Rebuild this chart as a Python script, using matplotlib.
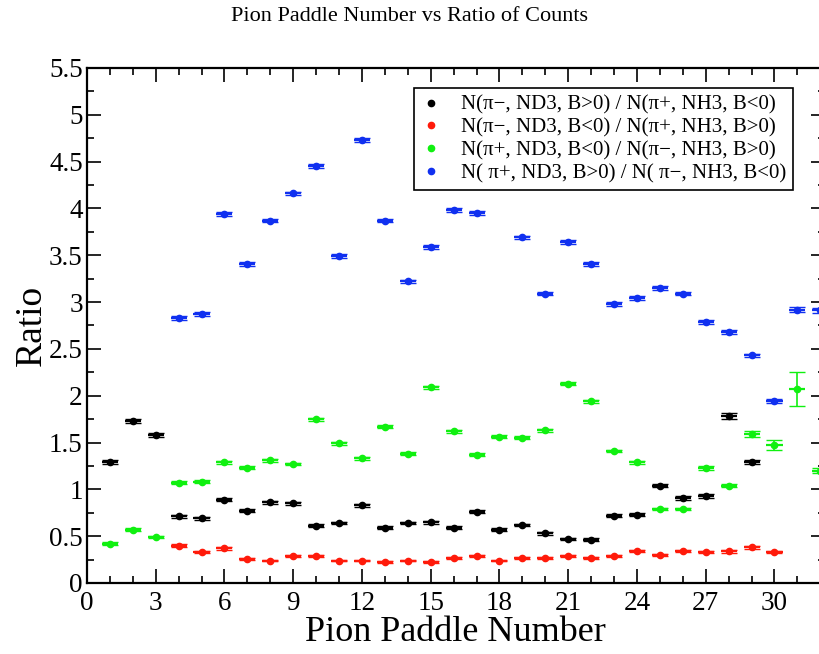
import matplotlib.pyplot as plt
from matplotlib.lines import Line2D

plt.rcParams['font.family'] = ['Liberation Serif', 'DejaVu Serif']

# paddle numbers and ratios
black_x = list(range(1, 30))
black_y = [1.29, 1.73, 1.58, 0.71, 0.69, 0.89, 0.77, 0.86, 0.85, 0.61,
           0.64, 0.83, 0.59, 0.64, 0.65, 0.59, 0.76, 0.57, 0.62, 0.53,
           0.47, 0.46, 0.72, 0.73, 1.04, 0.91, 0.93, 1.78, 1.29]
black_e = [0.02, 0.02, 0.02, 0.015, 0.015, 0.015, 0.015, 0.015, 0.015, 0.015,
           0.015, 0.015, 0.015, 0.015, 0.015, 0.015, 0.015, 0.015, 0.015, 0.015,
           0.015, 0.015, 0.015, 0.015, 0.02, 0.02, 0.02, 0.03, 0.02]

red_x = list(range(4, 31))
red_y = [0.40, 0.33, 0.37, 0.26, 0.24, 0.29, 0.29, 0.24, 0.24, 0.22,
         0.24, 0.22, 0.27, 0.29, 0.24, 0.27, 0.27, 0.29, 0.27, 0.29,
         0.34, 0.30, 0.34, 0.33, 0.34, 0.38, 0.33]
red_e = [0.015, 0.015, 0.015, 0.01, 0.01, 0.01, 0.01, 0.01, 0.01, 0.01,
         0.01, 0.01, 0.01, 0.01, 0.01, 0.01, 0.01, 0.01, 0.01, 0.01,
         0.01, 0.01, 0.01, 0.01, 0.015, 0.015, 0.015]

green_x = list(range(1, 33))
green_y = [0.42, 0.57, 0.49, 1.07, 1.08, 1.29, 1.23, 1.31, 1.27, 1.75,
           1.49, 1.33, 1.67, 1.38, 2.09, 1.62, 1.37, 1.56, 1.55, 1.63,
           2.13, 1.94, 1.41, 1.29, 0.79, 0.79, 1.23, 1.04, 1.59, 1.47,
           2.07, 1.20]
green_e = [0.015, 0.015, 0.015, 0.015, 0.015, 0.015, 0.015, 0.015, 0.015, 0.015,
           0.015, 0.015, 0.015, 0.015, 0.015, 0.015, 0.015, 0.015, 0.015, 0.015,
           0.015, 0.015, 0.015, 0.015, 0.015, 0.015, 0.02, 0.02, 0.03, 0.055,
           0.18, 0.03]

blue_x = [4, 5, 6, 7, 8, 9, 10, 11, 12, 13, 14, 15, 16, 17, 19, 20,
          21, 22, 23, 24, 25, 26, 27, 28, 29, 30, 31, 32]
blue_y = [2.83, 2.87, 3.94, 3.41, 3.87, 4.16, 4.45, 3.49, 4.73, 3.87,
          3.22, 3.59, 3.98, 3.95, 3.69, 3.09, 3.64, 3.41, 2.98, 3.04,
          3.15, 3.09, 2.79, 2.68, 2.43, 1.94, 2.92, 2.91]
blue_e = [0.02, 0.02, 0.02, 0.02, 0.02, 0.02, 0.02, 0.02, 0.02, 0.02,
          0.02, 0.02, 0.02, 0.02, 0.02, 0.02, 0.02, 0.02, 0.02, 0.02,
          0.02, 0.02, 0.02, 0.02, 0.02, 0.02, 0.03, 0.03]

labels = ['N(\u03c0\u2212, ND3, B>0) / N(\u03c0+, NH3, B<0)',
          'N(\u03c0\u2212, ND3, B<0) / N(\u03c0+, NH3, B>0)',
          'N(\u03c0+, ND3, B<0) / N(\u03c0\u2212, NH3, B>0)',
          'N( \u03c0+, ND3, B>0) / N( \u03c0\u2212, NH3, B<0)']
colors = ['black', '#ff1a0a', '#10f010', '#1030f0']

fig = plt.figure(figsize=(8.2, 6.54), dpi=100)
ax = fig.add_axes([0.106, 0.1086, 0.9, 0.7875])

series = [(black_x, black_y, black_e), (red_x, red_y, red_e),
          (green_x, green_y, green_e), (blue_x, blue_y, blue_e)]
for (xs, ys, es), c in zip(series, colors):
    # horizontal bars (paddle width), then vertical stat errors with caps
    ax.errorbar(xs, ys, xerr=0.35, fmt='none', ecolor=c, elinewidth=1.6,
                capsize=0)
    ax.errorbar(xs, ys, yerr=es, fmt='o', color=c, ms=4.5, ecolor=c,
                elinewidth=1.2, capsize=5.5, capthick=1.0)

ax.set_xlim(0, 32.2)
ax.set_ylim(0, 5.5)
ax.set_xticks(range(0, 33, 3))
ax.set_xticks(range(0, 33), minor=True)
ax.set_yticks([i * 0.5 for i in range(12)])
ax.set_yticklabels(['0', '0.5', '1', '1.5', '2', '2.5', '3', '3.5',
                    '4', '4.5', '5', '5.5'])
ax.set_yticks([i * 0.25 for i in range(23)], minor=True)
ax.tick_params(which='both', direction='in', top=True, right=True,
               labelsize=19.5, width=1.2)
ax.tick_params(axis='x', pad=6)
ax.tick_params(axis='y', pad=3)
ax.tick_params(which='major', length=10)
ax.tick_params(which='minor', length=5)
for s in ax.spines.values():
    s.set_linewidth(1.6)

ax.set_xlabel('Pion Paddle Number', fontsize=26, labelpad=0)
ax.set_ylabel('Ratio', fontsize=27, labelpad=0)
fig.suptitle('Pion Paddle Number vs Ratio of Counts', fontsize=16, y=0.99)

handles = [Line2D([], [], ls='none', marker='o', ms=4.5, color=c) for c in colors]
leg = ax.legend(handles, labels, loc='upper right', bbox_to_anchor=(0.957, 0.961),
                fontsize=15, frameon=True, fancybox=False, framealpha=1,
                edgecolor='black', handlelength=1.0, handletextpad=0.9,
                borderpad=0.35, labelspacing=0.15, borderaxespad=0)
leg.get_frame().set_linewidth(1.2)

fig.savefig('out.png', dpi=100)
